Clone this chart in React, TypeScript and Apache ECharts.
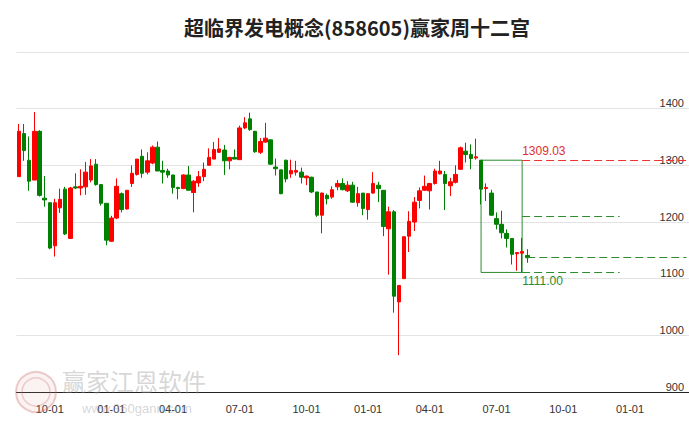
import React, { useEffect, useRef } from "react";
import * as echarts from "echarts";

const TITLE = "超临界发电概念(858605)赢家周十二宫";

// weekly candles: [week, open, close, low, high]
const candles: [string, number, number, number, number][] = [
  ["2022-08-26", 1280, 1360, 1280, 1373],
  ["2022-09-02", 1356, 1326, 1308, 1373],
  ["2022-09-09", 1309, 1272, 1255, 1351],
  ["2022-09-16", 1274, 1360, 1274, 1394],
  ["2022-09-23", 1360, 1247, 1245, 1362],
  ["2022-09-30", 1242, 1239, 1227, 1281],
  ["2022-10-14", 1234, 1154, 1152, 1235],
  ["2022-10-21", 1158, 1234, 1139, 1241],
  ["2022-10-28", 1225, 1240, 1216, 1259],
  ["2022-11-04", 1258, 1179, 1177, 1262],
  ["2022-11-11", 1171, 1260, 1171, 1262],
  ["2022-11-18", 1262, 1260, 1258, 1286],
  ["2022-11-25", 1260, 1263, 1247, 1293],
  ["2022-12-02", 1262, 1288, 1248, 1306],
  ["2022-12-09", 1274, 1299, 1270, 1311],
  ["2022-12-16", 1302, 1266, 1264, 1311],
  ["2022-12-23", 1266, 1233, 1229, 1267],
  ["2022-12-30", 1233, 1168, 1159, 1233],
  ["2023-01-06", 1166, 1207, 1165, 1211],
  ["2023-01-13", 1207, 1263, 1205, 1277],
  ["2023-01-20", 1250, 1222, 1217, 1252],
  ["2023-02-03", 1223, 1256, 1222, 1256],
  ["2023-02-10", 1268, 1286, 1262, 1300],
  ["2023-02-17", 1284, 1311, 1282, 1311],
  ["2023-02-24", 1316, 1286, 1278, 1328],
  ["2023-03-03", 1288, 1308, 1284, 1323],
  ["2023-03-10", 1304, 1332, 1302, 1335],
  ["2023-03-17", 1332, 1290, 1290, 1342],
  ["2023-03-24", 1291, 1288, 1268, 1308],
  ["2023-03-31", 1290, 1283, 1278, 1294],
  ["2023-04-07", 1283, 1261, 1250, 1283],
  ["2023-04-14", 1261, 1259, 1240, 1262],
  ["2023-04-21", 1259, 1283, 1258, 1284],
  ["2023-04-28", 1283, 1256, 1256, 1299],
  ["2023-05-05", 1252, 1272, 1217, 1274],
  ["2023-05-12", 1269, 1280, 1262, 1290],
  ["2023-05-19", 1280, 1293, 1272, 1305],
  ["2023-05-26", 1300, 1314, 1300, 1330],
  ["2023-06-02", 1311, 1328, 1311, 1341],
  ["2023-06-09", 1323, 1329, 1322, 1348],
  ["2023-06-16", 1327, 1308, 1283, 1336],
  ["2023-06-21", 1308, 1314, 1293, 1315],
  ["2023-06-30", 1314, 1311, 1311, 1328],
  ["2023-07-07", 1310, 1366, 1310, 1370],
  ["2023-07-14", 1366, 1375, 1364, 1385],
  ["2023-07-21", 1382, 1363, 1361, 1393],
  ["2023-07-28", 1360, 1324, 1322, 1361],
  ["2023-08-04", 1323, 1342, 1320, 1348],
  ["2023-08-11", 1341, 1348, 1340, 1375],
  ["2023-08-18", 1345, 1302, 1301, 1346],
  ["2023-08-25", 1297, 1294, 1282, 1312],
  ["2023-09-01", 1292, 1250, 1249, 1292],
  ["2023-09-08", 1309, 1276, 1270, 1310],
  ["2023-09-15", 1285, 1291, 1278, 1310],
  ["2023-09-22", 1288, 1291, 1282, 1308],
  ["2023-09-28", 1288, 1279, 1268, 1296],
  ["2023-10-13", 1278, 1281, 1265, 1282],
  ["2023-10-20", 1279, 1253, 1251, 1280],
  ["2023-10-27", 1253, 1212, 1209, 1253],
  ["2023-11-03", 1212, 1251, 1180, 1252],
  ["2023-11-10", 1247, 1241, 1231, 1250],
  ["2023-11-17", 1244, 1257, 1241, 1263],
  ["2023-11-24", 1262, 1268, 1256, 1274],
  ["2023-12-01", 1268, 1257, 1256, 1277],
  ["2023-12-08", 1255, 1265, 1253, 1272],
  ["2023-12-15", 1265, 1235, 1234, 1271],
  ["2023-12-22", 1234, 1250, 1227, 1262],
  ["2023-12-29", 1251, 1224, 1212, 1251],
  ["2024-01-05", 1222, 1250, 1204, 1251],
  ["2024-01-12", 1251, 1268, 1250, 1288],
  ["2024-01-19", 1265, 1259, 1235, 1271],
  ["2024-01-26", 1256, 1192, 1175, 1256],
  ["2024-02-02", 1188, 1218, 1107, 1227],
  ["2024-02-08", 1218, 1069, 1040, 1221],
  ["2024-02-23", 1059, 1088, 965, 1088],
  ["2024-03-01", 1100, 1174, 1100, 1174],
  ["2024-03-08", 1175, 1201, 1147, 1219],
  ["2024-03-15", 1200, 1235, 1184, 1244],
  ["2024-03-22", 1238, 1255, 1224, 1261],
  ["2024-03-29", 1256, 1263, 1255, 1282],
  ["2024-04-03", 1255, 1268, 1222, 1269],
  ["2024-04-12", 1268, 1290, 1266, 1294],
  ["2024-04-19", 1285, 1290, 1284, 1308],
  ["2024-04-26", 1284, 1268, 1221, 1290],
  ["2024-04-30", 1264, 1271, 1246, 1278],
  ["2024-05-10", 1270, 1284, 1268, 1300],
  ["2024-05-17", 1293, 1331, 1292, 1333],
  ["2024-05-24", 1325, 1319, 1305, 1340],
  ["2024-05-31", 1319, 1312, 1293, 1337],
  ["2024-06-07", 1313, 1315, 1310, 1347],
  ["2024-06-14", 1309.03, 1258, 1231, 1309.03],
  ["2024-06-21", 1259, 1261, 1237, 1268],
  ["2024-06-28", 1251, 1212, 1211, 1257],
  ["2024-07-05", 1206, 1196, 1187, 1217],
  ["2024-07-12", 1196, 1181, 1171, 1220],
  ["2024-07-19", 1180, 1171, 1155, 1187],
  ["2024-07-26", 1171, 1143, 1125, 1171],
  ["2024-08-02", 1144, 1146, 1114, 1146],
  ["2024-08-09", 1145, 1148, 1111, 1172],
  ["2024-08-16", 1141, 1137, 1128, 1152],
];

// empty future weeks that the axis keeps for the projection
const futureWeeks = [
  "2024-08-23", "2024-08-30", "2024-09-06", "2024-09-13", "2024-09-20", "2024-09-27",
  "2024-10-04", "2024-10-11", "2024-10-18", "2024-10-25", "2024-11-01", "2024-11-08",
  "2024-11-15", "2024-11-22", "2024-11-29", "2024-12-06", "2024-12-13", "2024-12-20",
  "2024-12-27", "2025-01-03", "2025-01-10", "2025-01-17", "2025-01-24", "2025-01-31",
  "2025-02-07", "2025-02-14", "2025-02-21", "2025-02-28", "2025-03-07", "2025-03-14",
  "2025-03-21",
];

// first week of each quarter and its tick label
const tickWeeks = [
  "2022-10-14", "2023-01-06", "2023-04-07", "2023-07-07", "2023-10-13",
  "2024-01-05", "2024-04-03", "2024-07-05", "2024-10-04", "2025-01-03",
];
const tickLabels = ["10-01", "01-01", "04-01", "07-01", "10-01", "01-01", "04-01", "07-01", "10-01", "01-01"];

// 十二宫 annotation
const swingStart = "2024-06-14";
const swingEnd = "2024-08-09";
const lastWeek = "2024-08-16";
const projectionEnd = "2024-12-20";
const axisEnd = "2025-03-21";
const swingHigh = 1309.03;
const swingLow = 1111.0;
const swingMid = 1210.0;
const lastClose = 1137;

const RED = "#ff0000";
const GREEN = "#008000";

export default function App() {
  const ref = useRef<HTMLDivElement>(null);
  useEffect(() => {
    if (!ref.current) return;
    const chart = echarts.init(ref.current, undefined, { renderer: "svg" });
    const categories = candles.map((c) => c[0]).concat(futureWeeks);
    const isTick = (_i: number, v: string) => tickWeeks.indexOf(v) >= 0;
    const dashRed = { color: "#ee3333", type: [8, 4], width: 1 };
    const dashGreen = { color: "#2e8b2e", type: [8, 4], width: 1 };
    const option: any = {
      animation: false,
      title: {
        text: TITLE,
        left: 352,
        textAlign: "center",
        top: 12,
        textStyle: {
          fontSize: 20,
          fontWeight: "bold",
          color: "#222",
          fontFamily: '"Noto Sans CJK SC", sans-serif',
        },
      },
      grid: { left: 16.4, top: 52, width: 674.65, height: 340 },
      xAxis: {
        type: "category",
        data: categories,
        boundaryGap: true,
        axisLine: { lineStyle: { color: "#222", width: 1 } },
        axisTick: { alignWithLabel: true, interval: isTick, length: 5, lineStyle: { color: "#222" } },
        axisLabel: {
          interval: isTick,
          formatter: (v: string) => tickLabels[tickWeeks.indexOf(v)] ?? "",
          color: "#333",
          fontSize: 11,
          margin: 11,
          fontFamily: '"Liberation Sans", Arial, sans-serif',
        },
        splitLine: { show: false },
      },
      yAxis: {
        type: "value",
        position: "right",
        min: 900,
        max: 1500,
        interval: 100,
        axisLine: { show: false },
        axisTick: { show: false },
        splitLine: { lineStyle: { color: "#e3e3e3", width: 1 } },
        axisLabel: {
          inside: true,
          showMaxLabel: false,
          verticalAlign: "bottom",
          margin: 5,
          color: "#333",
          fontSize: 11,
          formatter: (v: number) => String(v),
          fontFamily: '"Liberation Sans", Arial, sans-serif',
        },
      },
      graphic: [
        { type: "circle", shape: { cx: 36, cy: 392, r: 20 }, style: { fill: "rgba(225,150,150,0.12)", stroke: "rgba(200,110,110,0.35)", lineWidth: 2 }, z: 50 },
        { type: "circle", shape: { cx: 36, cy: 392, r: 14 }, style: { fill: "none", stroke: "rgba(200,110,110,0.3)", lineWidth: 1.5 }, z: 50 },
        { type: "text", x: 62, y: 368, style: { text: "赢家江恩软件", fontSize: 24, fill: "rgba(150,150,150,0.4)", fontFamily: '"Noto Sans CJK SC", sans-serif' }, z: 50 },
        { type: "text", x: 82, y: 402, style: { text: "www.360gann.com", fontSize: 13, fill: "rgba(150,150,150,0.4)", fontFamily: '"Liberation Sans", Arial, sans-serif' }, z: 50 },
      ],
      series: [
        {
          type: "candlestick",
          data: candles.map((c) => [c[1], c[2], c[3], c[4]]),
          barWidth: 4,
          itemStyle: {
            color: RED,
            color0: GREEN,
            borderColor: RED,
            borderColor0: GREEN,
            borderWidth: 1,
          },
          markArea: {
            silent: true,
            itemStyle: { color: "rgba(0,0,0,0)", borderColor: "#2e8b2e", borderWidth: 1 },
            data: [[{ coord: [swingStart, swingHigh] }, { coord: [swingEnd, swingLow] }]],
          },
          markLine: {
            silent: true,
            symbol: ["none", "none"],
            data: [
              [
                { coord: [swingEnd, swingHigh], lineStyle: dashRed, label: { show: true, position: "insideStartTop", formatter: "1309.03", color: "#e03030", fontSize: 12, distance: [0, 3] } },
                { coord: [axisEnd, swingHigh] },
              ],
              [
                { coord: [swingEnd, swingMid], lineStyle: dashGreen, label: { show: false } },
                { coord: [projectionEnd, swingMid] },
              ],
              [
                { coord: [swingEnd, swingLow], lineStyle: dashGreen, label: { show: true, position: "insideStartBottom", formatter: "1111.00", color: "#2e8b2e", fontSize: 12, distance: [0, 3] } },
                { coord: [projectionEnd, swingLow] },
              ],
              [
                { coord: [lastWeek, lastClose], lineStyle: dashGreen, label: { show: false } },
                { coord: [axisEnd, lastClose] },
              ],
            ],
          },
        },
      ],
    };
    chart.setOption(option);
    return () => chart.dispose();
  }, []);
  return (
    <div
      ref={ref}
      style={{ position: "fixed", left: 0, top: 0, width: 689, height: 427, background: "#fff" }}
    />
  );
}
